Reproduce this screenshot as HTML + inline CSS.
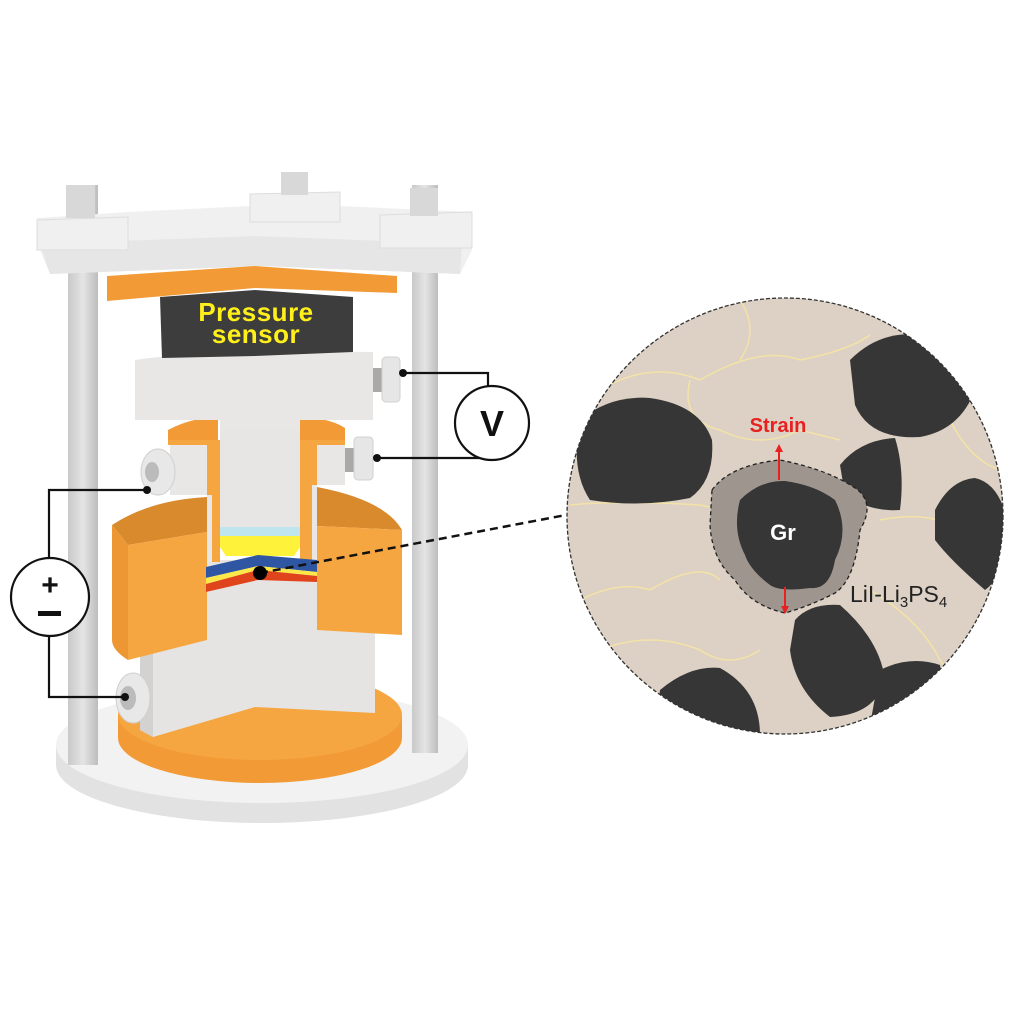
<!DOCTYPE html>
<html><head><meta charset="utf-8"><style>html,body{margin:0;padding:0;background:#fff}svg{display:block}</style></head>
<body>
<svg width="1024" height="1024" viewBox="0 0 1024 1024" xmlns="http://www.w3.org/2000/svg">
<defs>
<clipPath id="cc"><circle cx="785" cy="516" r="218"/></clipPath>
<linearGradient id="rod" x1="0" x2="1"><stop offset="0" stop-color="#c9c9c9"/><stop offset=".5" stop-color="#e4e4e4"/><stop offset="1" stop-color="#bdbdbd"/></linearGradient>
</defs>
<rect width="1024" height="1024" fill="#fff"/>
<!-- base -->
<path d="M56 745 L56 765 A206 58 0 0 0 468 765 L468 745 Z" fill="#e2e2e2"/>
<ellipse cx="262" cy="745" rx="206" ry="58" fill="#f2f2f2"/>
<!-- rods -->
<rect x="68" y="185" width="30" height="580" fill="url(#rod)"/>
<rect x="412" y="185" width="26" height="568" fill="url(#rod)"/>
<!-- bottom orange disk -->
<path d="M118 715 L118 738 A142 45 0 0 0 402 738 L402 715 Z" fill="#f29a35"/>
<ellipse cx="260" cy="715" rx="142" ry="45" fill="#f6a640"/>
<!-- lower white block -->
<polygon points="140,590 153,590 375,590 375,713 255,707 153,737 140,730" fill="#e6e4e2"/>
<polygon points="140,590 153,590 153,737 140,730" fill="#d4d2d0"/>
<!-- bottom screw -->
<ellipse cx="133" cy="698" rx="17" ry="25" fill="#e8e8e8" stroke="#cfcfcf"/>
<ellipse cx="128" cy="698" rx="8" ry="12" fill="#bbb"/>
<!-- big orange halves -->
<path d="M112 525 Q150 500 207 497 L207 532 L128 545 Z" fill="#d98a2c"/>
<path d="M112 525 L128 545 L128 660 Q112 650 112 640 Z" fill="#ec9733"/>
<polygon points="128,545 207,532 207,640 128,660" fill="#f6a640"/>
<path d="M317 487 Q385 500 402 530 L317 526 Z" fill="#d98a2c"/>
<polygon points="317,526 402,530 402,635 317,630" fill="#f6a640"/>
<!-- central column -->
<rect x="207" y="560" width="110" height="80" fill="#e6e4e2"/>
<!-- cup -->
<path d="M168 430 Q190 418 218 417 L218 440 L168 440 Z" fill="#f29a35"/>
<path d="M300 417 Q330 418 345 428 L345 440 L300 440 Z" fill="#f29a35"/>
<rect x="168" y="440" width="50" height="5" fill="#f6a640"/>
<rect x="300" y="440" width="45" height="5" fill="#f6a640"/>
<rect x="170" y="445" width="42" height="50" fill="#e9e7e5"/>
<rect x="307" y="445" width="38" height="40" fill="#e9e7e5"/>
<rect x="207" y="440" width="13" height="122" fill="#f6a640"/>
<rect x="300" y="440" width="17" height="122" fill="#f6a640"/>
<rect x="207" y="495" width="5" height="67" fill="#e9e7e5"/>
<rect x="312" y="485" width="5" height="77" fill="#e9e7e5"/>
<rect x="220" y="420" width="80" height="107" fill="#e8e6e4"/>
<rect x="220" y="527" width="80" height="9" fill="#bfe6ee"/>
<polygon points="220,536 300,536 300,547 294,556 226,556 220,547" fill="#fff23a"/>
<!-- layers -->
<polygon points="206,567 258,555 317,560 317,572 258,566 206,578" fill="#2f56a3"/>
<polygon points="206,578 258,566 317,572 317,576 258,570 206,584" fill="#fde84a"/>
<polygon points="206,584 258,570 317,576 317,582 258,580 206,592" fill="#e0441c"/>
<!-- upper white block -->
<path d="M135 360 Q200 350 373 352 L373 420 L300 420 L300 430 L220 430 L220 420 L135 420 Z" fill="#e9e7e5"/>
<!-- screws -->
<rect x="373" y="368" width="10" height="24" fill="#a9a9a9"/>
<rect x="382" y="357" width="18" height="45" rx="4" fill="#e6e6e6" stroke="#d0d0d0"/>
<rect x="345" y="448" width="10" height="24" fill="#a9a9a9"/>
<rect x="354" y="437" width="19" height="43" rx="4" fill="#e6e6e6" stroke="#d0d0d0"/>
<ellipse cx="158" cy="472" rx="17" ry="23" fill="#e8e8e8" stroke="#cfcfcf"/>
<ellipse cx="152" cy="472" rx="7" ry="10" fill="#bbb"/>
<!-- top plate -->
<polygon points="37,218 128,212 250,206 340,206 472,212 472,250 460,274 262,266 50,274 40,250" fill="#f0f0f0"/>
<polygon points="40,244 255,236 462,244 460,274 262,266 50,274" fill="#e6e6e6"/>
<polygon points="37,220 128,217 128,250 37,250" fill="#f0f0f0" stroke="#ddd"/>
<polygon points="380,215 472,212 472,248 380,248" fill="#f0f0f0" stroke="#ddd"/>
<polygon points="250,194 340,192 340,222 250,222" fill="#f0f0f0" stroke="#ddd"/>
<rect x="66" y="185" width="29" height="33" fill="#d8d8d8"/>
<rect x="281" y="172" width="27" height="23" fill="#d8d8d8"/>
<rect x="410" y="188" width="28" height="28" fill="#d8d8d8"/>
<!-- orange top plate -->
<polygon points="107,276 255,266 397,276 397,293 255,288 107,301" fill="#f29a35"/>
<!-- sensor -->
<polygon points="160,297 255,290 353,297 353,352 255,356 162,358" fill="#3d3d3d"/>
<text x="256" y="321" text-anchor="middle" font-family="Liberation Sans, sans-serif" font-weight="bold" font-size="26" fill="#ffef1a" letter-spacing="0.5">Pressure</text>
<text x="256" y="343" text-anchor="middle" font-family="Liberation Sans, sans-serif" font-weight="bold" font-size="26" fill="#ffef1a" letter-spacing="0.5">sensor</text>
<!-- wires -->
<g fill="none" stroke="#111" stroke-width="2.2">
<polyline points="403,373 488,373 488,386"/>
<polyline points="377,458 488,458 488,460"/>
<polyline points="147,490 49,490 49,558"/>
<polyline points="125,697 49,697 49,636"/>
</g>
<circle cx="403" cy="373" r="4" fill="#111"/><circle cx="377" cy="458" r="4" fill="#111"/>
<circle cx="147" cy="490" r="4" fill="#111"/><circle cx="125" cy="697" r="4" fill="#111"/>
<circle cx="492" cy="423" r="37" fill="#fff" stroke="#111" stroke-width="2.2"/>
<text x="492" y="436" text-anchor="middle" font-family="Liberation Sans, sans-serif" font-weight="bold" font-size="36" fill="#111">V</text>
<circle cx="50" cy="597" r="39" fill="#fff" stroke="#111" stroke-width="2.2"/>
<text x="50" y="595" text-anchor="middle" font-family="Liberation Sans, sans-serif" font-weight="bold" font-size="30" fill="#111">+</text>
<rect x="38" y="611" width="23" height="5" fill="#111"/>
<!-- dashed connector -->
<line x1="260" y1="573" x2="566" y2="515" stroke="#111" stroke-width="2.5" stroke-dasharray="8,5"/>
<circle cx="260" cy="573" r="7" fill="#000"/>
<!-- magnified circle -->
<g clip-path="url(#cc)">
<rect x="560" y="290" width="470" height="450" fill="#dcd1c4"/>
<g fill="none" stroke="#f3e3a6" stroke-width="1.5">
<path d="M600 390 Q650 360 700 380 Q760 345 800 360 Q850 350 870 335"/>
<path d="M690 380 Q680 420 720 430 Q760 450 800 430 L840 440"/>
<path d="M570 505 Q620 500 700 505 Q740 515 760 500"/>
<path d="M580 600 Q620 580 650 590 Q700 560 720 580"/>
<path d="M600 650 Q650 630 700 650 Q730 670 760 650"/>
<path d="M880 520 Q930 510 960 530 Q990 520 1010 540"/>
<path d="M870 590 Q920 620 940 660 Q960 690 1000 670"/>
<path d="M740 300 Q760 330 740 360"/>
<path d="M950 420 Q970 460 1000 470"/>
</g>
<path d="M580 420 Q610 395 650 398 Q700 405 712 440 Q715 480 690 498 Q640 508 590 500 Q570 470 580 420 Z" fill="#363636"/>
<path d="M850 360 Q880 330 920 335 Q960 345 975 390 Q960 430 920 437 Q870 440 855 405 Z" fill="#363636"/>
<path d="M840 465 Q860 440 895 438 Q905 470 900 510 Q870 512 845 495 Z" fill="#363636"/>
<path d="M935 510 Q950 480 975 478 Q1005 485 1010 540 Q1000 580 985 590 Q950 560 935 540 Z" fill="#363636"/>
<path d="M795 620 Q810 603 840 605 Q880 640 885 680 Q875 715 830 717 Q795 690 790 650 Z" fill="#363636"/>
<path d="M880 670 Q910 655 940 665 Q945 700 930 725 L870 725 Z" fill="#363636"/>
<path d="M660 690 Q690 665 720 668 Q760 690 760 735 L655 735 Z" fill="#363636"/>
<path d="M712 490 Q730 465 780 460 Q830 470 858 490 Q875 505 860 530 Q855 580 835 593 Q810 606 785 613 Q750 605 735 580 Q712 560 710 525 Z" fill="#9e958f" stroke="#222" stroke-width="1.3" stroke-dasharray="4,3"/>
<path d="M740 500 Q760 480 785 481 Q815 485 835 500 Q850 530 835 560 Q830 590 810 588 Q780 592 770 585 Q750 570 745 555 Q732 530 740 500 Z" fill="#363636"/>
<text x="783" y="540" text-anchor="middle" font-family="Liberation Sans, sans-serif" font-weight="bold" font-size="22" fill="#fff">Gr</text>
<text x="778" y="432" text-anchor="middle" font-family="Liberation Sans, sans-serif" font-weight="bold" font-size="20" fill="#e82020">Strain</text>
<line x1="779" y1="480" x2="779" y2="450" stroke="#e82020" stroke-width="2"/>
<polygon points="775,452 783,452 779,444" fill="#e82020"/>
<line x1="785" y1="587" x2="785" y2="608" stroke="#e82020" stroke-width="2"/>
<polygon points="781,606 789,606 785,614" fill="#e82020"/>
<text x="850" y="602" font-family="Liberation Sans, sans-serif" font-size="23" fill="#222">LiI-Li<tspan font-size="15" dy="5">3</tspan><tspan dy="-5">PS</tspan><tspan font-size="15" dy="5">4</tspan></text>
</g>
<circle cx="785" cy="516" r="218" fill="none" stroke="#333" stroke-width="1.3" stroke-dasharray="4,2"/>
</svg>
</body></html>
